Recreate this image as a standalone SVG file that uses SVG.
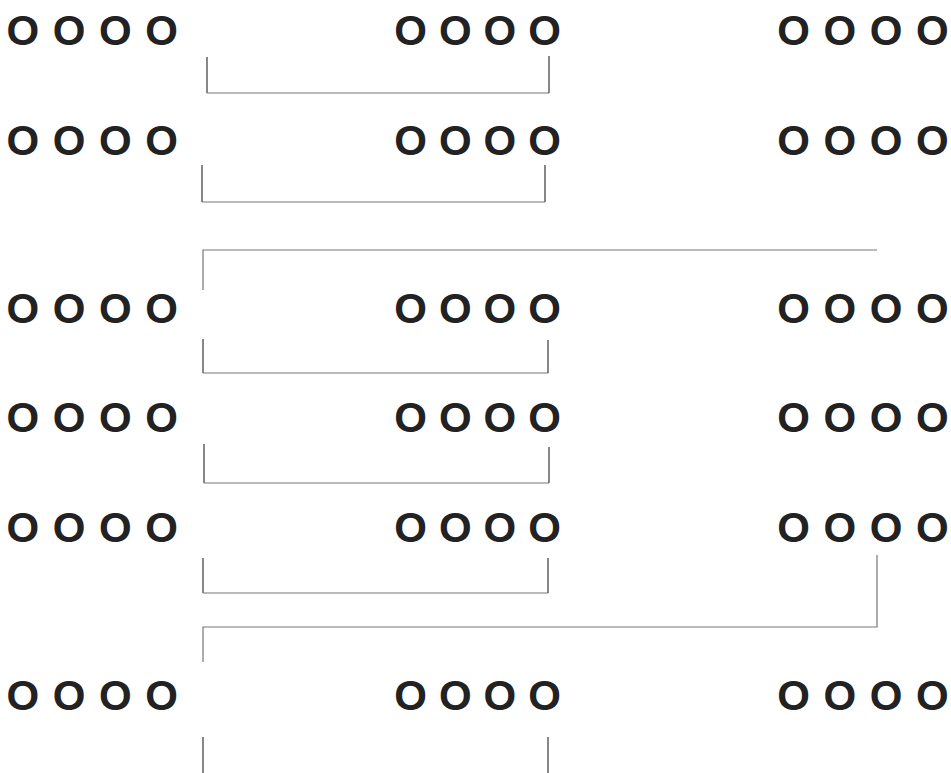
<svg xmlns="http://www.w3.org/2000/svg" width="951" height="773" viewBox="0 0 951 773">
<style>
.lbl{font-family:"Liberation Sans",Arial,sans-serif;font-weight:bold;font-size:42px;word-spacing:1.9px;fill:#222}
.mid{word-spacing:0.3px}
.c{fill:none;stroke:#777;stroke-width:1.2}
.v{fill:none;stroke:#555;stroke-width:1.4}
</style>
<rect width="951" height="773" fill="#fff"/>
<g id="connectors">
<path class="v" d="M207,57V93"/><path class="c" d="M207,93H549"/><path class="v" d="M549,56V93"/>
<path class="v" d="M202,165V202"/><path class="c" d="M202,202H545"/><path class="v" d="M545,165V202"/>
<path class="c" d="M877,250H203V290"/>
<path class="v" d="M203,339V373"/><path class="c" d="M203,373H548"/><path class="v" d="M548,340V373"/>
<path class="v" d="M204,444V483"/><path class="c" d="M204,483H549"/><path class="v" d="M549,447V483"/>
<path class="v" d="M203,558V593"/><path class="c" d="M203,593H548"/><path class="v" d="M548,558V593"/>
<path class="c" d="M877,555V627H203V662"/>
<path class="v" d="M203,737V773"/><path class="v" d="M548,737V773"/>
</g>
<g id="n1"><text class="lbl" x="6.5" y="44.5">O O O O</text></g>
<g id="n2"><text class="lbl mid" x="394.3" y="44.5">O O O O</text></g>
<g id="n3"><text class="lbl" x="777.3" y="44.5">O O O O</text></g>
<g id="n4"><text class="lbl" x="6.5" y="155">O O O O</text></g>
<g id="n5"><text class="lbl mid" x="394.3" y="155">O O O O</text></g>
<g id="n6"><text class="lbl" x="777.3" y="155">O O O O</text></g>
<g id="n7"><text class="lbl" x="6.5" y="323">O O O O</text></g>
<g id="n8"><text class="lbl mid" x="394.3" y="323">O O O O</text></g>
<g id="n9"><text class="lbl" x="777.3" y="323">O O O O</text></g>
<g id="n10"><text class="lbl" x="6.5" y="432">O O O O</text></g>
<g id="n11"><text class="lbl mid" x="394.3" y="432">O O O O</text></g>
<g id="n12"><text class="lbl" x="777.3" y="432">O O O O</text></g>
<g id="n13"><text class="lbl" x="6.5" y="542">O O O O</text></g>
<g id="n14"><text class="lbl mid" x="394.3" y="542">O O O O</text></g>
<g id="n15"><text class="lbl" x="777.3" y="542">O O O O</text></g>
<g id="n16"><text class="lbl" x="6.5" y="710">O O O O</text></g>
<g id="n17"><text class="lbl mid" x="394.3" y="710">O O O O</text></g>
<g id="n18"><text class="lbl" x="777.3" y="710">O O O O</text></g>
</svg>
